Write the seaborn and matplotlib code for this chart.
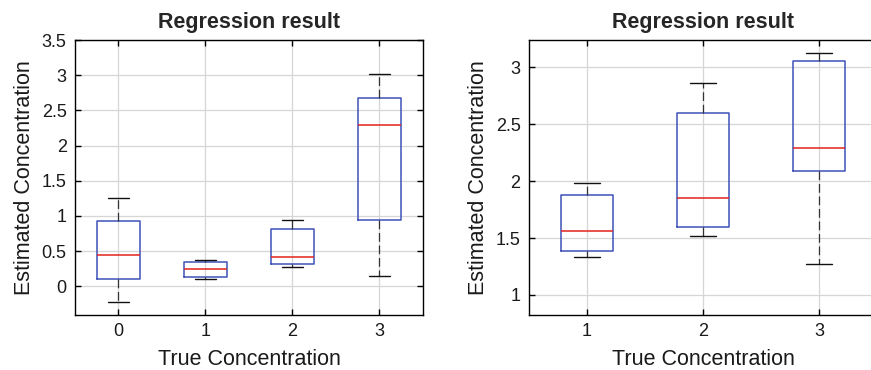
import numpy as np
import pandas as pd
import matplotlib
matplotlib.use("Agg")
import matplotlib.pyplot as plt
import seaborn as sns

# --- values (whisker low, q1, median, q3, whisker high) ---
left_groups = ["0", "1", "2", "3"]
left_low = [-0.23, 0.10, 0.27, 0.15]
left_q1 = [0.10, 0.13, 0.31, 0.94]
left_med = [0.44, 0.24, 0.41, 2.29]
left_q3 = [0.93, 0.34, 0.81, 2.67]
left_high = [1.25, 0.37, 0.94, 3.01]

right_groups = ["1", "2", "3"]
right_low = [1.33, 1.52, 1.27]
right_q1 = [1.385, 1.60, 2.09]
right_med = [1.56, 1.85, 2.29]
right_q3 = [1.875, 2.60, 3.06]
right_high = [1.98, 2.86, 3.13]

BOX_BLUE = "#3f52b8"
MED_RED = "#e2231a"


def make_long(groups, low, q1, med, q3, high):
    # five points per group so the quartiles land exactly on the read values
    rows = []
    for i, g in enumerate(groups):
        for v in (low[i], q1[i], med[i], q3[i], high[i]):
            rows.append({"group": g, "value": v})
    return pd.DataFrame(rows)


left_df = make_long(left_groups, left_low, left_q1, left_med, left_q3, left_high)
right_df = make_long(right_groups, right_low, right_q1, right_med, right_q3, right_high)

sns.set_theme(style="white")
plt.rcParams["font.family"] = ["Liberation Sans", "DejaVu Sans"]

fig = plt.figure(figsize=(8.71, 3.70), dpi=100)
ax1 = fig.add_axes([0.0861, 0.1486, 0.3995, 0.7432])
ax2 = fig.add_axes([0.6073, 0.1486, 0.3995, 0.7432])


def draw(ax, df, order, width, capw):
    sns.boxplot(
        data=df, x="group", y="value", order=order, ax=ax,
        whis=(0, 100), showfliers=False, fill=False, width=width,
        color=BOX_BLUE, linewidth=1.1,
        boxprops=dict(color=BOX_BLUE, linewidth=1.1),
        medianprops=dict(color=MED_RED, linewidth=1.1),
        whiskerprops=dict(color="#333333", linestyle=(0, (7, 3)), linewidth=0.9),
        capprops=dict(color="#111111", linewidth=1.0),
        capwidths=capw,
    )
    ax.grid(True, color="#d6d6d6", linewidth=0.9)
    ax.set_axisbelow(True)
    ax.tick_params(direction="in", length=4, width=1, color="black",
                   top=True, right=True, bottom=True, left=True,
                   labelsize=13, labelcolor="#1a1a1a", pad=6)
    for s in ax.spines.values():
        s.set_color("black")
        s.set_linewidth(1.0)
    ax.set_title("Regression result", fontsize=15.5, fontweight="bold", pad=9)
    ax.set_xlabel("True Concentration", fontsize=15.5, labelpad=6, color="#1a1a1a")
    ax.set_ylabel("Estimated Concentration", fontsize=15.5, labelpad=5, color="#1a1a1a")


draw(ax1, left_df, left_groups, 0.5, 0.25)
ax1.set_xlim(-0.5, 3.5)
ax1.set_ylim(-0.41, 3.5)
ax1.set_yticks([0, 0.5, 1, 1.5, 2, 2.5, 3, 3.5])
ax1.set_yticklabels(["0", "0.5", "1", "1.5", "2", "2.5", "3", "3.5"])

draw(ax2, right_df, right_groups, 0.45, 0.22)
ax2.set_xlim(-0.5, 2.5)
ax2.set_ylim(0.824, 3.24)
ax2.set_yticks([1, 1.5, 2, 2.5, 3])
ax2.set_yticklabels(["1", "1.5", "2", "2.5", "3"])

fig.savefig("out.png", dpi=100)
